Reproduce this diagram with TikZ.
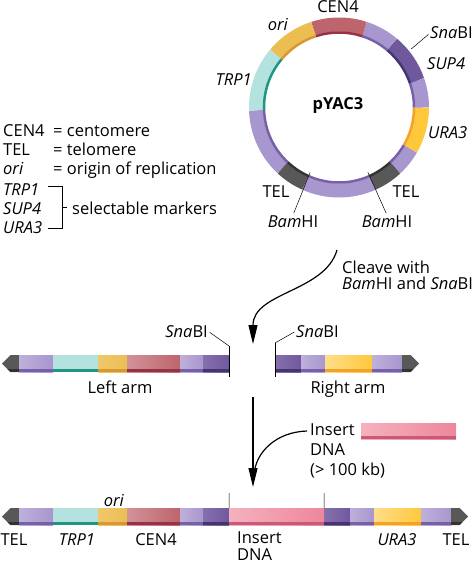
\documentclass[tikz,border=0pt]{standalone}
\usepackage{fontspec}
\setmainfont{Open Sans}
\usetikzlibrary{positioning,shapes.symbols,arrows.meta}

\definecolor{lpA}{RGB}{168,150,206}
\definecolor{lpB}{RGB}{118,96,168}
\definecolor{dpA}{RGB}{112,88,158}
\definecolor{dpB}{RGB}{70,52,110}
\definecolor{trpA}{RGB}{180,226,222}
\definecolor{trpB}{RGB}{30,150,130}
\definecolor{oriA}{RGB}{236,190,82}
\definecolor{oriB}{RGB}{218,150,48}
\definecolor{cenA}{RGB}{190,100,108}
\definecolor{cenB}{RGB}{150,50,72}
\definecolor{uraA}{RGB}{255,200,60}
\definecolor{uraB}{RGB}{245,160,40}
\definecolor{telA}{RGB}{88,88,88}
\definecolor{telB}{RGB}{50,50,50}
\definecolor{insA}{RGB}{238,135,155}
\definecolor{insB}{RGB}{200,90,120}

\tikzset{stripe/.style={path picture={\fill[#1] (path picture bounding box.south west) rectangle ([yshift=3pt]path picture bounding box.south east);}}}
\tikzstyle{seg}=[rectangle,
    inner sep=0pt,
    outer sep=0pt,
    minimum height=17pt]
\tikzstyle{lpurple}=[seg, left color=lpA!75!white, right color=lpA, stripe=lpB]
\tikzstyle{dpurple}=[seg, left color=dpA!85!white, right color=dpA, stripe=dpB]
\tikzstyle{trpseg}=[seg, fill=trpA, stripe=trpB]
\tikzstyle{oriseg}=[seg, left color=oriA!85!white, right color=oriA, stripe=oriB]
\tikzstyle{censeg}=[seg, left color=cenA!70!white, right color=cenA, stripe=cenB]
\tikzstyle{uraseg}=[seg, left color=uraA!60!white, right color=uraA, stripe=uraB]
\tikzstyle{insseg}=[seg, left color=insA!65!white, right color=insA, stripe=insB]
\tikzstyle{telseg}=[signal,
    signal pointer angle=90,
    inner sep=0pt,
    outer sep=0pt,
    minimum height=17pt,
    minimum width=17pt,
    fill=telA,
    stripe=telB]
\tikzstyle{leader}=[draw, line width=0.5pt]
\tikzstyle{bracket}=[draw, line width=0.7pt]
\tikzstyle{feed}=[draw, line width=1.2pt]
\tikzstyle{bigarrow}=[draw, line width=1.2pt, >={Triangle[length=19pt,width=9pt]}, ->]

\begin{document}
\begin{tikzpicture}[x=1pt, y=-1pt, font=\fontsize{16.5}{19}\selectfont, every node/.append style={inner sep=0pt}]
\useasboundingbox (0,0) rectangle (472,564);

\coordinate (pc) at (339,107.5);
\foreach \a/\b/\c/\d in {47/30/lpA/lpB, 30/0/uraA/uraB, 0/-19/lpA/lpB, -19/-50/dpA/dpB,
    -50/-72/lpA/lpB, -72/-108/cenA/cenB, -108/-140/oriA/oriB, -140/-182/trpA/trpB,
    -182/-227/lpA/lpB, -227/-246/telA/telB, -246/-294/lpA/lpB, -294/-313/telA/telB}
{
    \draw[line width=14pt, \c] ([shift={(\a:83)}]pc) arc[start angle=\a, end angle=\b, radius=83];
    \draw[line width=2.5pt, \d] ([shift={(\a:75)}]pc) arc[start angle=\a, end angle=\b, radius=75];
}
\node (pyac) [anchor=base] at (338,110) {\bfseries pYAC3};
\node (cenlbl) [anchor=base] at (338,13) {CEN4};
\node (orilbl) [anchor=base] at (278,31) {\textit{ori}};
\node (snalbl) [anchor=base west] at (430,39) {\textit{Sna}BI};
\node (suplbl) [anchor=base west] at (427,70) {\textit{SUP4}};
\node (trplbl) [anchor=base east] at (252,86) {\textit{TRP1}};
\node (uralbl) [anchor=base west] at (428,139) {\textit{URA3}};
\node (tell) [anchor=base] at (276,197) {TEL};
\node (telr) [anchor=base] at (406,197) {TEL};
\node (baml) [anchor=base] at (293,227) {\textit{Bam}HI};
\node (bamr) [anchor=base] at (387,227) {\textit{Bam}HI};
\coordinate (snasite) at ([shift={(-39:93)}]pc);
\coordinate (bamlsite) at ([shift={(-246:71)}]pc);
\coordinate (bamrsite) at ([shift={(-294:71)}]pc);
\draw[leader, shorten <=2pt] (snalbl.west) -- (snasite);
\draw[leader, shorten <=2pt] (baml.north) -- (bamlsite);
\draw[leader, shorten <=2pt] (bamr.north) -- (bamrsite);

\node (cenkey) [anchor=base west] at (3,137) {CEN4};
\node (cendef) [anchor=base west] at (53,137) {= centomere};
\node (telkey) [anchor=base west] at (3,156) {TEL};
\node (teldef) [anchor=base west] at (53,156) {= telomere};
\node (orikey) [anchor=base west] at (3,175) {\textit{ori}};
\node (oridef) [anchor=base west] at (53,175) {= origin of replication};
\node (trpkey) [anchor=base west] at (3,195) {\textit{TRP1}};
\node (supkey) [anchor=base west] at (3,214) {\textit{SUP4}};
\node (urakey) [anchor=base west] at (3,233) {\textit{URA3}};
\node (markers) [anchor=base west] at (72,214) {selectable markers};
\coordinate (brtop) at (48,186);
\coordinate (brbot) at (48,228);
\draw[bracket] (brtop) -- ++(14,0) |- (brbot);
\draw[bracket] ([xshift=-5pt]markers.west) -- ++(-5,0);

\coordinate (cleavea) at (337,250);
\coordinate (cleaveb) at (253,344);
\draw[bigarrow] (cleavea) .. controls (325,292) and (253,292) .. (cleaveb);
\node (cleave1) [anchor=base west] at (342,273) {Cleave with};
\node (cleave2) [anchor=base west] at (342,289) {\textit{Bam}HI and \textit{Sna}BI};

\node (ltel) [telseg, signal to=west, anchor=west] at (2,363.5) {};
\node (lp1) [lpurple, minimum width=34pt, right=0pt of ltel] {};
\node (ltrp) [trpseg, minimum width=45pt, right=0pt of lp1] {};
\node (lori) [oriseg, minimum width=29pt, right=0pt of ltrp] {};
\node (lcen) [censeg, minimum width=53pt, right=0pt of lori] {};
\node (lp2) [lpurple, minimum width=23pt, right=0pt of lcen] {};
\node (ldp) [dpurple, minimum width=26pt, right=0pt of lp2] {};
\node (rdp) [dpurple, minimum width=26pt, anchor=west] at (275,363.5) {};
\node (rp1) [lpurple, minimum width=24pt, right=0pt of rdp] {};
\node (rura) [uraseg, minimum width=47pt, right=0pt of rp1] {};
\node (rp2) [lpurple, minimum width=30pt, right=0pt of rura] {};
\node (rtel) [telseg, signal to=east, right=0pt of rp2] {};
\node (larm) [anchor=base] at (120,393) {Left arm};
\node (rarm) [anchor=base] at (348,393) {Right arm};
\coordinate (snalcut) at (229,346);
\coordinate (snalend) at (229,377);
\coordinate (snarcut) at (275,343);
\coordinate (snarend) at (275,377);
\draw[leader] (snalcut) -- (snalend);
\draw[leader] (snarcut) -- (snarend);
\node (snal) [anchor=base east] at (208,337) {\textit{Sna}BI};
\node (snar) [anchor=base west] at (296,337) {\textit{Sna}BI};
\draw[leader, shorten <=2pt] (snal.east) -- (snalcut);
\draw[leader, shorten <=2pt] (snar.west) -- (snarcut);

\coordinate (joina) at (253,397);
\coordinate (joinb) at (253,487);
\coordinate (joinc) at (254,474);
\draw[bigarrow] (joina) -- (joinb);
\node (inslbl) [anchor=north west, align=left, font=\fontsize{16.5}{20}\selectfont] at (310,424) {Insert\\DNA\\(> 100 kb)};
\draw[feed] ([xshift=-3pt,yshift=-7pt]inslbl.north west) .. controls (276,432) and (256,452) .. (joinc);
\node (insdna) [insseg, minimum width=95pt, minimum height=16pt, anchor=west] at (361,431) {};

\node (btel) [telseg, signal to=west, anchor=west] at (2,516.5) {};
\node (bp1) [lpurple, minimum width=34pt, right=0pt of btel] {};
\node (btrp) [trpseg, minimum width=45pt, right=0pt of bp1] {};
\node (bori) [oriseg, minimum width=29pt, right=0pt of btrp] {};
\node (bcen) [censeg, minimum width=53pt, right=0pt of bori] {};
\node (bp2) [lpurple, minimum width=23pt, right=0pt of bcen] {};
\node (bdp1) [dpurple, minimum width=26pt, right=0pt of bp2] {};
\node (bins) [insseg, minimum width=95pt, right=0pt of bdp1] {};
\node (bdp2) [dpurple, minimum width=26pt, right=0pt of bins] {};
\node (bp3) [lpurple, minimum width=24pt, right=0pt of bdp2] {};
\node (bura) [uraseg, minimum width=47pt, right=0pt of bp3] {};
\node (bp4) [lpurple, minimum width=30pt, right=0pt of bura] {};
\node (btel2) [telseg, signal to=east, right=0pt of bp4] {};
\coordinate (bcuta) at (229,493);
\coordinate (bcutb) at (324,493);
\draw[leader] (bcuta) -- (bdp1.north east);
\draw[leader] (bcutb) -- (bins.north east);
\node (oribot) [anchor=base] at (114,506) {\textit{ori}};
\node (telbl) [anchor=base] at (14,545) {TEL};
\node (trpbot) [anchor=base] at (77,545) {\textit{TRP1}};
\node (cenbot) [anchor=base] at (156,545) {CEN4};
\node (insbot) [anchor=north west, align=left, font=\fontsize{16.5}{17}\selectfont] at (237,532) {Insert\\DNA};
\node (urabot) [anchor=base] at (397,545) {\textit{URA3}};
\node (telbr) [anchor=base] at (456,545) {TEL};
\end{tikzpicture}
\end{document}
